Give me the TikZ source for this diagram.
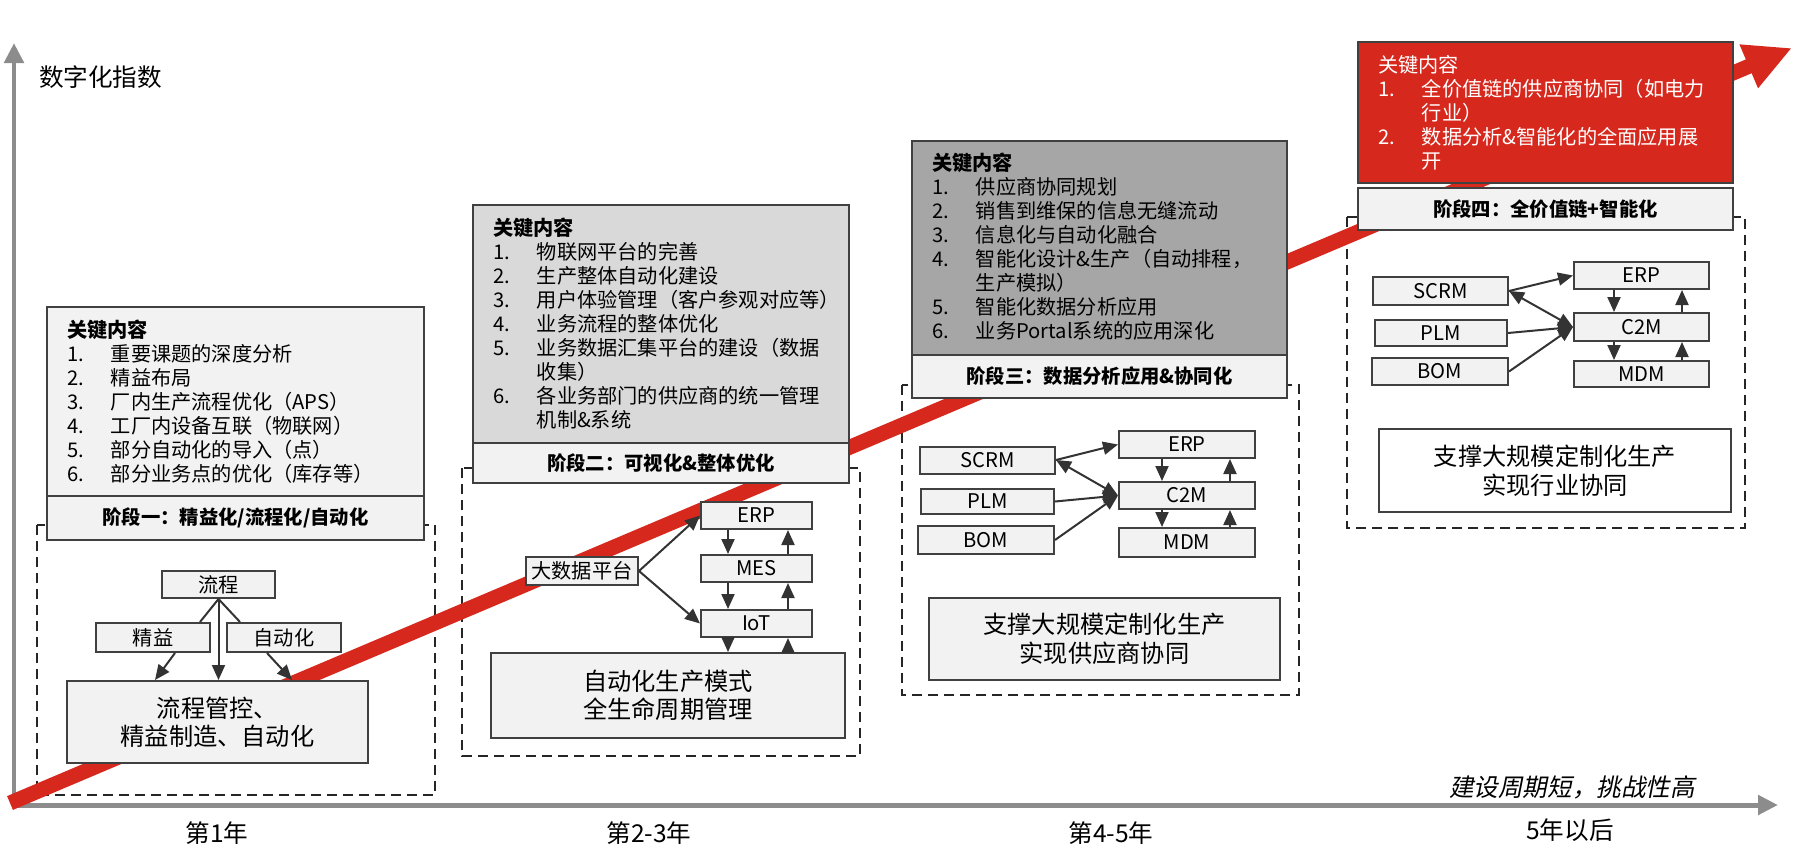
\documentclass[tikz,border=0pt]{standalone}
\usepackage{fontspec}
\setmainfont{Noto Sans CJK SC}[AutoFakeSlant=0.2]
\usetikzlibrary{arrows.meta}

\definecolor{axisgray}{HTML}{8C8C8C}
\definecolor{boxline}{HTML}{404040}
\definecolor{boxfill}{HTML}{F2F2F2}
\definecolor{keyfillB}{HTML}{D9D9D9}
\definecolor{keyfillC}{HTML}{A6A6A6}
\definecolor{keyred}{HTML}{D7281E}
\definecolor{linkgray}{HTML}{333333}

\newcommand\keyfont{\fontsize{11.5}{13.66}\selectfont}
\newcommand\lblfont{\fontsize{11}{13}\selectfont}
\newcommand\bigfont{\fontsize{13.8}{16.2}\selectfont}
\newcommand\axfont{\fontsize{14}{16}\selectfont}
\newcommand\kn[1]{\makebox[0.87cm][l]{#1}}
\def\upx{0.02cm}

\begin{document}
\begin{tikzpicture}[x=0.02cm, y=-0.02cm,
    >={Triangle[length=0.3cm, width=0.26cm]},
    axis/.style={draw=axisgray, line width=0.1cm, line join=miter,
        {Triangle[length=0.4cm, width=0.38cm]}-{Triangle[length=0.4cm, width=0.38cm]}},
    trend/.style={draw=keyred, line width=0.3cm, -{Triangle[length=0.94cm, width=0.88cm]}},
    keybox/.style={draw=boxline, line width=0.04cm, inner sep=0},
    keytext/.style={anchor=north west, inner sep=0, align=left, font=\keyfont},
    lblbox/.style={draw=boxline, fill=boxfill, line width=0.04cm, inner sep=0, font=\lblfont\bfseries},
    sbox/.style={draw=boxline, fill=boxfill, line width=0.04cm, inner sep=0, font=\keyfont},
    bigbox/.style={draw=boxline, fill=boxfill, line width=0.04cm, inner sep=0, align=center, font=\bigfont},
    stageframe/.style={draw=black!85, line width=0.04cm, dash pattern=on 0.2cm off 0.12cm},
    conn/.style={draw=linkgray, line width=0.04cm, ->},
    link/.style={draw=linkgray, line width=0.04cm},
]
\useasboundingbox (0,0) rectangle (1800,860);

% Axes
\coordinate (orig) at (14,805);
\coordinate (ytip) at (14,43);
\coordinate (xtip) at (1778,805);
\draw[axis] (ytip) -- (orig) -- (xtip);
\node[anchor=west, font=\axfont] (ylabel) at (33,77) {数字化指数};
\node[font=\axfont] (year1) at (217,833) {第1年};
\node[font=\axfont] (year2) at (649,833) {第2-3年};
\node[font=\axfont] (year3) at (1111,833) {第4-5年};
\node[font=\axfont] (year4) at (1570,830) {5年以后};
\node[font=\axfont\itshape] (note) at (1572,787) {建设周期短，挑战性高};

% Stage frames
\draw[stageframe] (37,525) rectangle (435,795);
\draw[stageframe] (462,468) rectangle (860,756);
\draw[stageframe] (902,385) rectangle (1299,695);
\draw[stageframe] (1347,217) rectangle (1745,528);

% Trend arrow
\coordinate (trendA) at (10,803);
\coordinate (trendB) at (1792,48);
\draw[trend] (trendA) -- (trendB);

%% Stage 1
\node[keybox, fill=boxfill, minimum width=377*\upx, minimum height=189*\upx] (key1) at (235.5,401.5) {};
\node[keytext] (keytxt1) at (67,320) {\textbf{关键内容}\\
    \kn{1.}重要课题的深度分析\\
    \kn{2.}精益布局\\
    \kn{3.}厂内生产流程优化（APS）\\
    \kn{4.}工厂内设备互联（物联网）\\
    \kn{5.}部分自动化的导入（点）\\
    \kn{6.}部分业务点的优化（库存等）};
\node[lblbox, minimum width=377*\upx, minimum height=44*\upx] (lbl1) at (235.5,518) {阶段一：精益化/流程化/自动化};

\node[sbox, minimum width=113*\upx, minimum height=27*\upx] (flow1) at (218.5,584.5) {流程};
\node[sbox, minimum width=114*\upx, minimum height=29*\upx] (lean1) at (153,637.5) {精益};
\node[sbox, minimum width=114*\upx, minimum height=29*\upx] (auto1) at (284,637.5) {自动化};
\node[bigbox, minimum width=301*\upx, minimum height=82*\upx] (res1) at (217.5,722) {流程管控、\\精益制造、自动化};

\draw[link] (flow1.south) -- ([xshift=0.94cm]lean1.north);
\draw[link] (flow1.south) -- ([xshift=-0.88cm]auto1.north);
\draw[conn] (flow1.south) -- (flow1.south |- res1.north);
\draw[conn] ([xshift=0.44cm]lean1.south) -- ([xshift=-1.25cm]res1.north);
\draw[conn] ([xshift=-0.34cm]auto1.south) -- ([xshift=1.49cm]res1.north);

%% Stage 2
\node[keybox, fill=keyfillB, minimum width=376*\upx, minimum height=238*\upx] (key2) at (661,324) {};
\node[keytext] (keytxt2) at (493,218) {\textbf{关键内容}\\
    \kn{1.}物联网平台的完善\\
    \kn{2.}生产整体自动化建设\\
    \kn{3.}用户体验管理（客户参观对应等）\\
    \kn{4.}业务流程的整体优化\\
    \kn{5.}业务数据汇集平台的建设（数据\\
    \kn{}收集）\\
    \kn{6.}各业务部门的供应商的统一管理\\
    \kn{}机制\&系统};
\node[lblbox, minimum width=376*\upx, minimum height=40*\upx] (lbl2) at (661,463) {阶段二：可视化\&整体优化};

\node[sbox, minimum width=112*\upx, minimum height=28*\upx] (data2) at (582,571) {大数据平台};
\node[sbox, minimum width=111*\upx, minimum height=27*\upx] (erp2) at (756.5,515.5) {ERP};
\node[sbox, minimum width=111*\upx, minimum height=27*\upx] (mes2) at (756.5,568.5) {MES};
\node[sbox, minimum width=111*\upx, minimum height=27*\upx] (iot2) at (756.5,623.5) {IoT};
\node[bigbox, minimum width=354*\upx, minimum height=85*\upx] (res2) at (668,695.5) {自动化生产模式\\全生命周期管理};

\draw[conn] (data2.east) -- (erp2.west);
\draw[conn] (data2.east) -- (iot2.west);
\foreach \a/\b in {erp2/mes2, mes2/iot2, iot2/res2} {
    \draw[conn] ([xshift=-0.57cm]\a.south) -- ([xshift=-0.57cm]\a.south |- \b.north);
    \draw[conn] ([xshift=0.63cm]\a.south |- \b.north) -- ([xshift=0.63cm]\a.south);
}

%% Stage 3
\node[keybox, fill=keyfillC, minimum width=375*\upx, minimum height=214*\upx] (key3) at (1099.5,248) {};
\node[keytext] (keytxt3) at (932,153) {\textbf{关键内容}\\
    \kn{1.}供应商协同规划\\
    \kn{2.}销售到维保的信息无缝流动\\
    \kn{3.}信息化与自动化融合\\
    \kn{4.}智能化设计\&生产（自动排程，\\
    \kn{}生产模拟）\\
    \kn{5.}智能化数据分析应用\\
    \kn{6.}业务Portal系统的应用深化};
\node[lblbox, minimum width=375*\upx, minimum height=43*\upx] (lbl3) at (1099.5,376.5) {阶段三：数据分析应用\&协同化};

\node[sbox, minimum width=135*\upx, minimum height=27*\upx] (scrm3) at (987.5,460) {SCRM};
\node[sbox, minimum width=133*\upx, minimum height=25*\upx] (plm3) at (987.5,501.5) {PLM};
\node[sbox, minimum width=136*\upx, minimum height=28*\upx] (bom3) at (986,540) {BOM};
\node[sbox, minimum width=136*\upx, minimum height=27*\upx] (erp3) at (1187,444.5) {ERP};
\node[sbox, minimum width=136*\upx, minimum height=27*\upx] (c2m3) at (1187,495.5) {C2M};
\node[sbox, minimum width=136*\upx, minimum height=29*\upx] (mdm3) at (1187,542.5) {MDM};
\node[bigbox, minimum width=351*\upx, minimum height=82*\upx] (res3) at (1104.5,639) {支撑大规模定制化生产\\实现供应商协同};

\draw[conn] (scrm3.east) -- (erp3.west);
\draw[conn, <->] (scrm3.east) -- (c2m3.west);
\draw[conn] (plm3.east) -- (c2m3.west);
\draw[conn] (bom3.east) -- (c2m3.west);
\foreach \a/\b in {erp3/c2m3, c2m3/mdm3} {
    \draw[conn] ([xshift=-0.5cm]\a.south) -- ([xshift=-0.5cm]\a.south |- \b.north);
    \draw[conn] ([xshift=0.86cm]\a.south |- \b.north) -- ([xshift=0.86cm]\a.south);
}

%% Stage 4
\node[keybox, fill=keyred, minimum width=375*\upx, minimum height=141*\upx] (key4) at (1545.5,112.5) {};
\node[keytext, text=white] (keytxt4) at (1378,55) {关键内容\\
    \kn{1.}全价值链的供应商协同（如电力\\
    \kn{}行业）\\
    \kn{2.}数据分析\&智能化的全面应用展\\
    \kn{}开};
\node[lblbox, minimum width=375*\upx, minimum height=42*\upx] (lbl4) at (1545.5,209) {阶段四：全价值链+智能化};

\node[sbox, minimum width=135*\upx, minimum height=28*\upx] (scrm4) at (1440.5,291) {SCRM};
\node[sbox, minimum width=132*\upx, minimum height=26*\upx] (plm4) at (1441,333) {PLM};
\node[sbox, minimum width=136*\upx, minimum height=27*\upx] (bom4) at (1440,371.5) {BOM};
\node[sbox, minimum width=135*\upx, minimum height=27*\upx] (erp4) at (1641.5,275.5) {ERP};
\node[sbox, minimum width=135*\upx, minimum height=28*\upx] (c2m4) at (1641.5,327) {C2M};
\node[sbox, minimum width=135*\upx, minimum height=26*\upx] (mdm4) at (1641.5,374) {MDM};
\node[bigbox, fill=white, minimum width=352*\upx, minimum height=83*\upx] (res4) at (1555,470.5) {支撑大规模定制化生产\\实现行业协同};

\draw[conn] (scrm4.east) -- (erp4.west);
\draw[conn, <->] (scrm4.east) -- (c2m4.west);
\draw[conn] (plm4.east) -- (c2m4.west);
\draw[conn] (bom4.east) -- (c2m4.west);
\foreach \a/\b in {erp4/c2m4, c2m4/mdm4} {
    \draw[conn] ([xshift=-0.55cm]\a.south) -- ([xshift=-0.55cm]\a.south |- \b.north);
    \draw[conn] ([xshift=0.81cm]\a.south |- \b.north) -- ([xshift=0.81cm]\a.south);
}
\end{tikzpicture}
\end{document}
